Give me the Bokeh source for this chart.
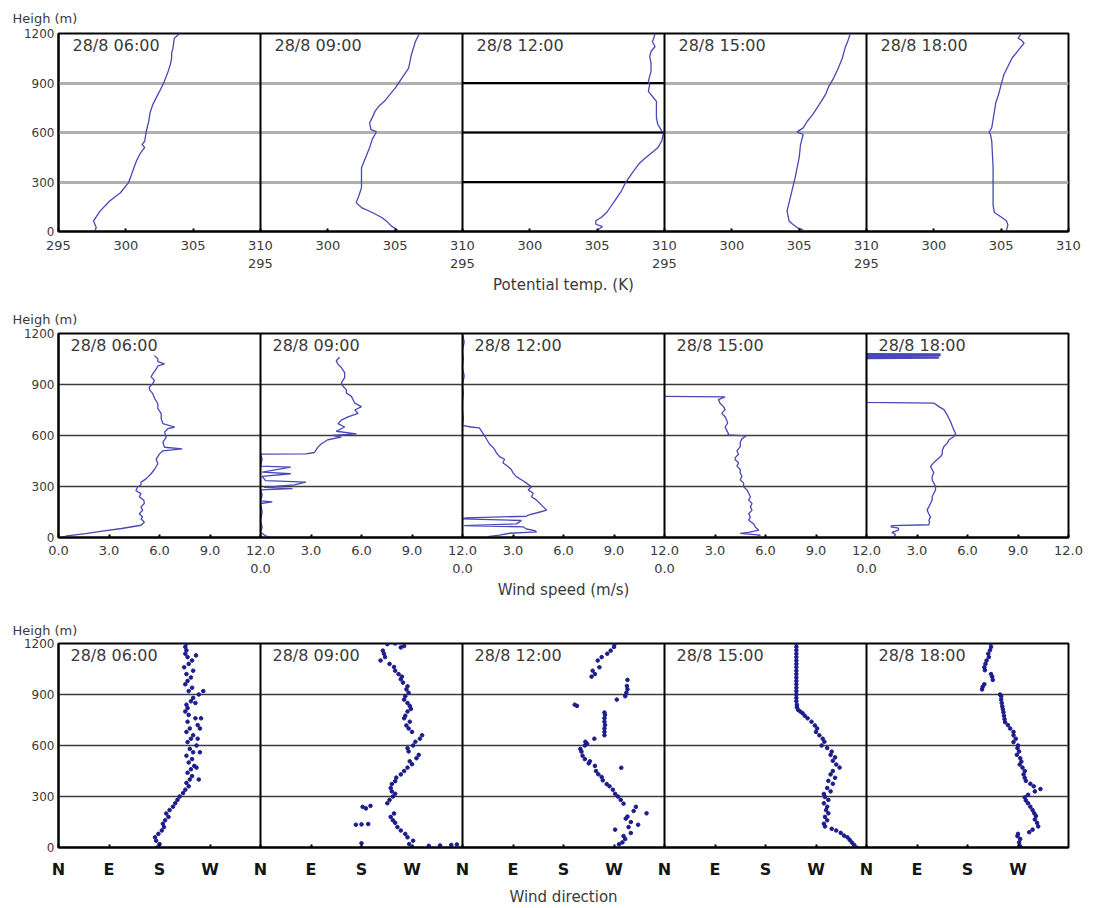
from bokeh.plotting import figure
from bokeh.models import Range1d, FixedTicker, Span, Label
from bokeh.layouts import column
from bokeh.embed import file_html
from bokeh.resources import INLINE

times = ["28/8  06:00", "28/8  09:00", "28/8  12:00", "28/8  15:00", "28/8  18:00"]
height_ticks = [0, 300, 600, 900, 1200]
grid_heights = [300, 600, 900]
temp_ticks = [295, 300, 305, 310]
speed_ticks = [0, 3, 6, 9, 12]
speed_labels = ["0.0", "3.0", "6.0", "9.0", "12.0"]
dir_ticks = [0, 90, 180, 270]
dir_labels = ["N", "E", "S", "W"]

# ---------------- Row 1: potential temperature (K) ----------------
th_06 = [0, 24, 64, 125, 185, 235, 296, 340, 386, 430, 477, 510, 527, 547, 600, 668, 720, 769, 849, 899, 960, 1010, 1050, 1080, 1111, 1171, 1200]
tv_06 = [297.7, 297.8, 297.6, 298.1, 298.8, 299.6, 300.2, 300.4, 300.6, 300.8, 301.1, 301.4, 301.2, 301.4, 301.5, 301.7, 301.8, 302.0, 302.5, 302.8, 303.1, 303.3, 303.4, 303.4, 303.5, 303.6, 304.0]
th_09 = [8, 34, 60, 85, 115, 145, 175, 215, 266, 326, 386, 447, 507, 560, 588, 605, 618, 658, 690, 728, 760, 789, 830, 869, 930, 990, 1070, 1151, 1200]
tv_09 = [305.2, 304.7, 304.4, 304.0, 303.3, 302.5, 302.1, 302.3, 302.5, 302.5, 302.5, 302.8, 303.1, 303.3, 303.5, 303.6, 303.2, 303.1, 303.3, 303.5, 303.8, 304.2, 304.6, 305.0, 305.5, 306.0, 306.2, 306.5, 306.8]
th_12 = [8, 30, 44, 65, 85, 115, 150, 185, 245, 296, 366, 410, 447, 480, 507, 550, 588, 600, 608, 650, 688, 740, 789, 809, 849, 890, 910, 940, 970, 1020, 1060, 1091, 1121, 1150, 1171, 1200]
tv_12 = [305.0, 305.4, 304.9, 304.9, 305.3, 305.7, 306.0, 306.3, 306.8, 307.1, 307.7, 308.1, 308.6, 309.1, 309.5, 309.8, 309.9, 310.0, 309.8, 309.5, 309.4, 309.4, 309.4, 309.2, 308.8, 308.9, 308.8, 308.9, 309.0, 309.0, 308.9, 309.0, 309.3, 309.1, 309.2, 309.3]
th_15 = [8, 24, 45, 64, 125, 225, 326, 447, 527, 588, 598, 604, 628, 668, 708, 770, 829, 880, 930, 990, 1050, 1110, 1151, 1200]
tv_15 = [305.3, 304.85, 304.5, 304.25, 304.1, 304.4, 304.7, 305.0, 305.1, 305.3, 305.0, 304.85, 305.3, 305.6, 306.0, 306.5, 306.95, 307.2, 307.56, 307.9, 308.2, 308.4, 308.6, 308.8]
th_18 = [8, 40, 64, 85, 115, 160, 225, 300, 386, 470, 547, 590, 598, 615, 628, 680, 728, 780, 829, 890, 950, 1000, 1050, 1111, 1141, 1160, 1171, 1200]
tv_18 = [305.4, 305.5, 305.4, 305.05, 304.5, 304.4, 304.4, 304.4, 304.4, 304.35, 304.3, 304.2, 304.1, 304.2, 304.3, 304.4, 304.5, 304.6, 304.8, 305.0, 305.2, 305.5, 305.8, 306.4, 306.7, 306.5, 306.25, 306.5]

# ---------------- Row 2: wind speed (m/s) ----------------
sh_06 = [0, 10, 23, 37, 53, 72, 90, 110, 121, 140, 160, 180, 200, 219, 240, 258, 275, 297, 310, 326, 345, 375, 400, 434, 460, 492, 510, 521, 531, 560, 590, 620, 640, 650, 670, 700, 729, 760, 787, 820, 846, 870, 885, 905, 924, 945, 963, 990, 1010, 1021, 1035, 1051, 1070]
sv_06 = [0.2, 0.5, 1.6, 2.6, 3.75, 4.9, 5.1, 4.9, 5.0, 4.8, 5.0, 4.9, 5.1, 5.07, 4.8, 4.9, 4.6, 4.7, 4.9, 4.9, 5.2, 5.5, 5.7, 5.9, 5.8, 6.0, 6.2, 7.35, 6.3, 6.2, 6.4, 6.3, 6.5, 6.9, 6.2, 6.1, 6.1, 5.9, 5.9, 5.7, 5.6, 5.4, 5.4, 5.6, 5.7, 5.5, 5.6, 5.8, 5.9, 6.3, 5.9, 5.9, 5.7]
sh_09 = [0, 10, 30, 60, 100, 150, 200, 209, 215, 250, 280, 287, 295, 310, 326, 335, 360, 375, 385, 414, 420, 460, 490, 492, 500, 530, 550, 575, 590, 600, 610, 625, 650, 670, 690, 710, 730, 750, 770, 790, 810, 830, 850, 870, 890, 910, 940, 970, 1000, 1020, 1040, 1060]
sv_09 = [0.6, 0.3, 0.0, 0.1, 0.0, 0.1, 0.0, 0.7, 0.0, 0.1, 0.0, 1.9, 0.2, 2.0, 2.7, 0.3, 0.1, 1.8, 0.1, 1.8, 0.0, 0.1, 0.0, 2.7, 3.2, 3.4, 3.6, 4.0, 4.8, 4.3, 5.7, 4.5, 5.0, 4.6, 4.8, 5.2, 5.8, 5.6, 6.0, 5.6, 5.5, 5.4, 5.1, 5.1, 4.9, 4.8, 5.0, 5.0, 4.8, 4.6, 4.5, 4.7]
sh_12 = [1200, 1150, 1100, 1050, 1000, 950, 900, 850, 800, 750, 700, 660, 650, 645, 630, 600, 575, 550, 520, 500, 476, 460, 440, 417, 400, 380, 358, 340, 320, 299, 280, 260, 240, 220, 200, 180, 161, 150, 132, 125, 115, 110, 100, 92, 80, 70, 63, 50, 40, 33, 25, 14, 5, 0]
sv_12 = [0.0, 0.1, 0.0, 0.05, 0.0, 0.1, 0.0, 0.05, 0.0, 0.0, 0.05, 0.0, 0.5, 1.0, 1.1, 1.3, 1.45, 1.6, 1.9, 2.0, 2.2, 2.5, 2.4, 2.7, 2.9, 3.0, 3.2, 3.5, 3.8, 4.1, 3.9, 4.2, 4.1, 4.4, 4.6, 4.8, 5.0, 4.6, 3.9, 3.8, 0.2, 0.0, 3.5, 3.4, 3.2, 0.1, 3.6, 3.8, 4.3, 4.4, 2.8, 2.2, 1.5, 1.8]
sh_15 = [830, 827, 811, 790, 770, 752, 730, 710, 690, 673, 650, 630, 610, 604, 598, 594, 580, 560, 535, 510, 490, 470, 457, 440, 420, 400, 378, 360, 340, 320, 299, 280, 260, 240, 220, 200, 180, 161, 140, 120, 102, 80, 60, 43, 30, 24, 14, 5]
sv_15 = [0.0, 3.6, 3.2, 3.3, 3.5, 3.6, 3.4, 3.6, 3.7, 3.75, 3.6, 3.7, 3.8, 3.75, 4.85, 4.8, 4.6, 4.5, 4.5, 4.3, 4.4, 4.2, 4.2, 4.4, 4.3, 4.5, 4.5, 4.6, 4.5, 4.7, 4.7, 4.9, 5.0, 5.1, 5.0, 5.2, 5.1, 5.2, 5.0, 5.1, 5.0, 5.3, 5.4, 5.6, 5.0, 4.5, 5.7, 5.5]
sh_18 = [1082, 1080, 1077, 1074, 1071, 1068, 1065, 1062, 1059, 1056, 1053, 795, 791, 770, 752, 720, 700, 680, 654, 630, 610, 594, 575, 555, 535, 510, 490, 476, 450, 430, 417, 400, 380, 360, 339, 320, 300, 280, 260, 240, 220, 200, 180, 161, 140, 120, 100, 92, 75, 70, 63, 55, 43, 30, 20, 14, 0]
sv_18 = [0.0, 4.4, 0.0, 4.4, 0.0, 4.4, 0.0, 4.3, 0.0, 4.3, 0.0, 0.0, 4.0, 4.3, 4.6, 4.8, 4.9, 5.0, 5.1, 5.2, 5.3, 5.2, 4.9, 4.8, 4.6, 4.5, 4.5, 4.4, 4.1, 3.9, 3.8, 3.9, 4.0, 3.9, 3.9, 4.0, 4.1, 4.1, 4.0, 3.9, 3.9, 3.8, 3.7, 3.6, 3.7, 3.8, 3.7, 3.75, 3.7, 1.5, 1.45, 1.9, 1.9, 1.5, 1.7, 1.7, 1.6]

# ---------------- Row 3: wind direction (deg, N=0, E=90, S=180, W=270) ----------------
dh_06 = [0, 20, 40, 60, 80, 100, 120, 140, 160, 180, 200, 220, 240, 260, 280, 300, 320, 340, 360, 380, 400, 420, 440, 460, 480, 500, 520, 540, 560, 580, 600, 620, 640, 660, 680, 700, 720, 740, 760, 780, 800, 820, 840, 860, 880, 900, 920, 940, 960, 980, 1000, 1020, 1040, 1060, 1080, 1100, 1120, 1140, 1160, 1180, 1200, 400, 560, 700, 760, 920, 1130, 470, 640, 850]
dv_06 = [176, 180, 174, 172, 178, 184, 188, 186, 190, 196, 192, 198, 204, 208, 212, 216, 222, 226, 232, 228, 234, 238, 230, 236, 242, 232, 238, 228, 240, 234, 246, 230, 236, 240, 228, 234, 248, 230, 244, 232, 226, 230, 228, 236, 240, 250, 232, 238, 226, 230, 236, 228, 240, 224, 232, 238, 230, 226, 228, 226, 228, 250, 252, 252, 254, 258, 245, 246, 248, 244]
dh_09 = [0, 10, 12, 15, 18, 20, 25, 40, 60, 80, 100, 120, 134, 136, 138, 145, 160, 180, 200, 230, 239, 245, 260, 280, 300, 316, 330, 350, 373, 390, 411, 430, 450, 470, 490, 507, 525, 545, 565, 584, 600, 622, 640, 660, 680, 700, 718, 740, 760, 775, 800, 815, 833, 850, 870, 890, 910, 930, 948, 970, 990, 1005, 1020, 1040, 1062, 1080, 1100, 1120, 1140, 1158, 1177, 1185, 1196, 1200]
dv_09 = [270, 300, 320, 340, 350, 265, 180, 272, 262, 258, 250, 244, 170, 180, 192, 240, 236, 232, 238, 188, 182, 196, 226, 230, 236, 240, 234, 232, 234, 240, 242, 250, 256, 262, 270, 266, 278, 282, 264, 262, 272, 276, 284, 288, 270, 264, 260, 266, 256, 258, 262, 268, 266, 262, 256, 258, 264, 260, 262, 254, 250, 252, 246, 240, 238, 230, 214, 222, 220, 218, 250, 256, 226, 240]
dh_12 = [19, 30, 50, 67, 85, 105, 120, 134, 150, 170, 182, 201, 215, 239, 258, 280, 300, 316, 340, 360, 373, 395, 415, 431, 450, 469, 480, 495, 507, 520, 540, 564, 580, 600, 610, 622, 640, 660, 680, 700, 720, 740, 760, 780, 794, 833, 840, 870, 890, 910, 930, 950, 986, 1005, 1020, 1040, 1060, 1100, 1120, 1140, 1158, 1180, 1196]
dv_12 = [279, 285, 290, 287, 300, 272, 296, 313, 300, 291, 294, 328, 305, 309, 287, 282, 277, 272, 268, 262, 257, 250, 248, 242, 238, 283, 236, 225, 227, 218, 214, 212, 210, 218, 222, 219, 235, 253, 253, 253, 254, 253, 253, 254, 253, 204, 200, 275, 290, 292, 294, 293, 294, 230, 236, 232, 244, 241, 248, 258, 264, 270, 271]
dh_15 = [1200, 1180, 1160, 1140, 1120, 1100, 1080, 1060, 1040, 1020, 1000, 980, 960, 940, 920, 900, 880, 860, 840, 825, 810, 800, 790, 775, 760, 740, 718, 700, 680, 660, 640, 622, 600, 585, 564, 545, 530, 510, 488, 470, 450, 430, 410, 392, 375, 350, 330, 315, 297, 280, 260, 240, 220, 201, 180, 160, 140, 124, 110, 100, 86, 70, 60, 45, 29, 15, 0]
dv_15 = [235, 235, 235, 235, 235, 235, 235, 235, 235, 235, 235, 235, 235, 235, 235, 235, 235, 235, 236, 236, 238, 242, 246, 250, 255, 262, 268, 272, 270, 276, 282, 285, 280, 290, 298, 296, 304, 300, 306, 312, 300, 296, 304, 292, 300, 290, 296, 284, 286, 292, 284, 290, 288, 292, 286, 290, 284, 286, 298, 306, 314, 320, 326, 330, 334, 338, 342]
dh_18 = [1200, 1180, 1160, 1140, 1120, 1100, 1080, 1060, 1043, 1020, 1005, 986, 960, 945, 930, 900, 890, 870, 850, 830, 813, 795, 775, 755, 737, 720, 700, 680, 660, 640, 620, 600, 584, 565, 545, 525, 505, 488, 470, 450, 430, 410, 392, 375, 360, 344, 330, 310, 295, 277, 260, 240, 220, 201, 185, 165, 145, 124, 105, 90, 80, 67, 50, 30, 10, 0]
dv_18 = [221, 222, 220, 217, 218, 214, 212, 210, 211, 222, 224, 225, 210, 207, 206, 238, 240, 240, 241, 242, 243, 244, 245, 246, 247, 252, 256, 262, 262, 266, 262, 270, 269, 272, 268, 274, 276, 273, 278, 282, 280, 282, 284, 292, 298, 310, 300, 288, 282, 284, 288, 292, 296, 299, 302, 300, 304, 306, 296, 290, 270, 269, 274, 272, 273, 275]

temp_series = [(tv_06, th_06), (tv_09, th_09), (tv_12, th_12), (tv_15, th_15), (tv_18, th_18)]
speed_series = [(sv_06, sh_06), (sv_09, sh_09), (sv_12, sh_12), (sv_15, sh_15), (sv_18, sh_18)]
dir_series = [(dv_06, dh_06), (dv_09, dh_09), (dv_12, dh_12), (dv_15, dh_15), (dv_18, dh_18)]

FONT = "DejaVu Sans"
TXT = "#3a3a3a"
LINE_C = "#4848b8"
DOT_C = "#1c1c8c"
W_FIG = 1095
B_LEFT = 58
B_RIGHT = 27


def make_row(fig_h, top, frame_h, lo, span, ticks, overrides, xlabel,
             grid_color, grid_width, title_standoff, tick_standoff, label_standoff,
             label_dx, bold_ticks=False):
    p = figure(width=W_FIG, height=fig_h, x_range=Range1d(0, 5 * span), y_range=Range1d(0, 1200),
               output_backend="svg", toolbar_location=None,
               min_border_left=B_LEFT, min_border_right=B_RIGHT,
               min_border_top=top, min_border_bottom=fig_h - top - frame_h,
               title="Heigh (m)")
    p.title.text_font = FONT
    p.title.text_font_size = "13px"
    p.title.text_font_style = "normal"
    p.title.text_color = TXT
    p.title.align = "left"
    p.title.offset = -46
    p.title.standoff = title_standoff
    p.outline_line_color = "black"
    p.outline_line_width = 2
    p.background_fill_color = "white"
    p.border_fill_color = "white"

    p.extra_x_ranges = {f"r{k}": Range1d(lo - span * k, lo + span * (5 - k)) for k in range(5)}

    p.xaxis.ticker = FixedTicker(ticks=ticks)
    p.xaxis.major_label_overrides = overrides
    p.xaxis.major_label_text_font = FONT
    p.xaxis.major_label_text_font_size = "16px" if bold_ticks else "13px"
    p.xaxis.major_label_text_font_style = "bold" if bold_ticks else "normal"
    p.xaxis.major_label_text_color = "#151515" if bold_ticks else TXT
    p.xaxis.major_label_standoff = tick_standoff
    p.xaxis.major_tick_in = 3
    p.xaxis.major_tick_out = 0
    p.xaxis.major_tick_line_width = 2
    p.xaxis.minor_tick_line_color = None
    p.xaxis.axis_line_color = "black"
    p.xaxis.axis_line_width = 2
    p.xaxis.axis_label = xlabel
    p.xaxis.axis_label_text_font = FONT
    p.xaxis.axis_label_text_font_size = "15px"
    p.xaxis.axis_label_text_font_style = "normal"
    p.xaxis.axis_label_text_color = TXT
    p.xaxis.axis_label_standoff = label_standoff

    p.yaxis.ticker = FixedTicker(ticks=height_ticks)
    p.yaxis.major_label_text_font = FONT
    p.yaxis.major_label_text_font_size = "12px"
    p.yaxis.major_label_text_color = TXT
    p.yaxis.major_label_standoff = 4
    p.yaxis.major_tick_in = 0
    p.yaxis.major_tick_out = 0
    p.yaxis.minor_tick_line_color = None
    p.yaxis.axis_line_color = "black"
    p.yaxis.axis_line_width = 2

    p.xgrid.visible = False
    p.ygrid.ticker = FixedTicker(ticks=grid_heights)
    p.ygrid.grid_line_color = grid_color
    p.ygrid.grid_line_width = grid_width

    for k in range(1, 5):
        p.add_layout(Span(location=span * k, dimension="height", line_color="black", line_width=2))
    for k in range(5):
        p.add_layout(Label(x=span * k, y=1200, x_offset=label_dx, y_offset=-12, text=times[k],
                           text_font=FONT, text_font_size="16px", text_color=TXT,
                           text_baseline="middle"))
    return p


def boundary_ticks(lo, span, vals, labels):
    ticks, over = [], {}
    for k in range(5):
        for i, v in enumerate(vals):
            if i == 0 and k > 0:
                continue
            pos = int(round(span * k + (v - lo)))
            lab = labels[i]
            if i == len(vals) - 1 and k < 4:
                lab = labels[i] + "\n" + labels[0]
            ticks.append(pos)
            over[pos] = lab
    return ticks, over


# Row 1
t1, o1 = boundary_ticks(295, 15, temp_ticks, [str(v) for v in temp_ticks])
p1 = make_row(300, 32, 199, 295, 15, t1, o1, "Potential temp. (K)", "#b0b0b0", 3,
              16, 6, 2, 14)
p1.segment(x0=[30] * 3, x1=[45] * 3, y0=grid_heights, y1=grid_heights, line_color="black", line_width=2)
for k, (v, h) in enumerate(temp_series):
    p1.line(v, h, x_range_name=f"r{k}", line_color=LINE_C, line_width=1.3)

# Row 2
t2, o2 = boundary_ticks(0, 12, speed_ticks, speed_labels)
p2 = make_row(305, 33, 204, 0, 12, t2, o2, "Wind speed (m/s)", "#3c3c3c", 1.3,
              14, 5, 2, 12)
for k, (v, h) in enumerate(speed_series):
    p2.line(v, h, x_range_name=f"r{k}", line_color=LINE_C, line_width=1.3)

# Row 3
t3, o3 = [], {}
for k in range(5):
    for i, v in enumerate(dir_ticks):
        pos = 360 * k + v
        t3.append(pos)
        o3[pos] = dir_labels[i]
p3 = make_row(303, 38, 209, 0, 360, t3, o3, "Wind direction", "#3c3c3c", 1.3,
              12, 12, 6, 12, bold_ticks=True)
for k, (v, h) in enumerate(dir_series):
    p3.scatter(v, h, x_range_name=f"r{k}", size=3.6, color=DOT_C, line_color=DOT_C)

layout = column(p1, p2, p3, spacing=0)
open("out.html", "w").write(file_html(layout, INLINE))
